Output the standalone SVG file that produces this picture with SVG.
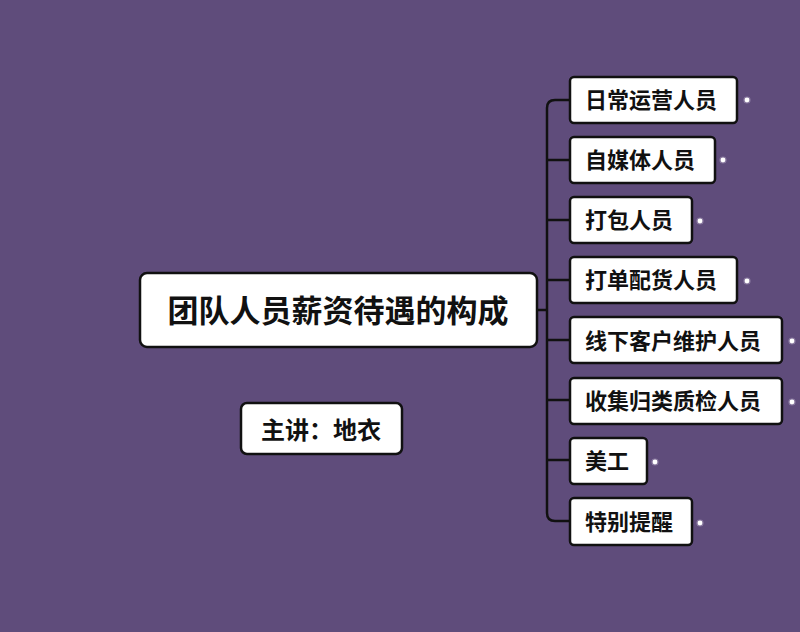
<svg xmlns="http://www.w3.org/2000/svg" width="800" height="632" viewBox="0 0 800 632">
<style>
.b{fill:#fff;stroke:#111;stroke-width:2.5}
.t{font-family:"Noto Sans CJK SC","Noto Sans",sans-serif;font-weight:bold;fill:#111}
.c{fill:none;stroke:#111;stroke-width:2.5}
.d{fill:#fff;stroke:#8a7aa0;stroke-width:1.2}
.n{font-size:22px}
</style>
<rect width="800" height="632" fill="#5f4c7b"/>
<g id="connectors">
<path class="c" d="M537 310H547"/>
<path class="c" d="M570 100H555Q547 100 547 108V513Q547 521 555 521H570"/>
<path class="c" d="M547 160H570M547 220H570M547 280H570M547 340H570M547 400H570M547 460H570"/>
</g>
<g id="root"><rect class="b" x="140" y="273" width="397" height="74" rx="7"/><text class="t" x="338" y="322" font-size="31" text-anchor="middle">团队人员薪资待遇的构成</text></g>
<g id="speaker"><rect class="b" x="241" y="403" width="161" height="51" rx="6"/><text class="t" x="321" y="439" font-size="24" text-anchor="middle">主讲：地衣</text></g>
<g id="n1"><rect class="b" x="570" y="77" width="167" height="46" rx="4"/><text class="t n" x="585" y="108">日常运营人员</text><circle class="d" cx="747" cy="100" r="3"/></g>
<g id="n2"><rect class="b" x="570" y="137" width="145" height="46" rx="4"/><text class="t n" x="585" y="168">自媒体人员</text><circle class="d" cx="723" cy="160" r="3"/></g>
<g id="n3"><rect class="b" x="570" y="197" width="122" height="46" rx="4"/><text class="t n" x="585" y="228">打包人员</text><circle class="d" cx="700" cy="221" r="3"/></g>
<g id="n4"><rect class="b" x="570" y="257" width="167" height="46" rx="4"/><text class="t n" x="585" y="288">打单配货人员</text><circle class="d" cx="747" cy="281" r="3"/></g>
<g id="n5"><rect class="b" x="570" y="317" width="212" height="46" rx="4"/><text class="t n" x="585" y="349">线下客户维护人员</text><circle class="d" cx="792" cy="341" r="3"/></g>
<g id="n6"><rect class="b" x="570" y="378" width="212" height="46" rx="4"/><text class="t n" x="585" y="409">收集归类质检人员</text><circle class="d" cx="792" cy="402" r="3"/></g>
<g id="n7"><rect class="b" x="570" y="438" width="77" height="46" rx="4"/><text class="t n" x="585" y="469">美工</text><circle class="d" cx="655" cy="462" r="3"/></g>
<g id="n8"><rect class="b" x="570" y="498" width="122" height="47" rx="4"/><text class="t n" x="585" y="530">特别提醒</text><circle class="d" cx="700" cy="523" r="3"/></g>
</svg>
